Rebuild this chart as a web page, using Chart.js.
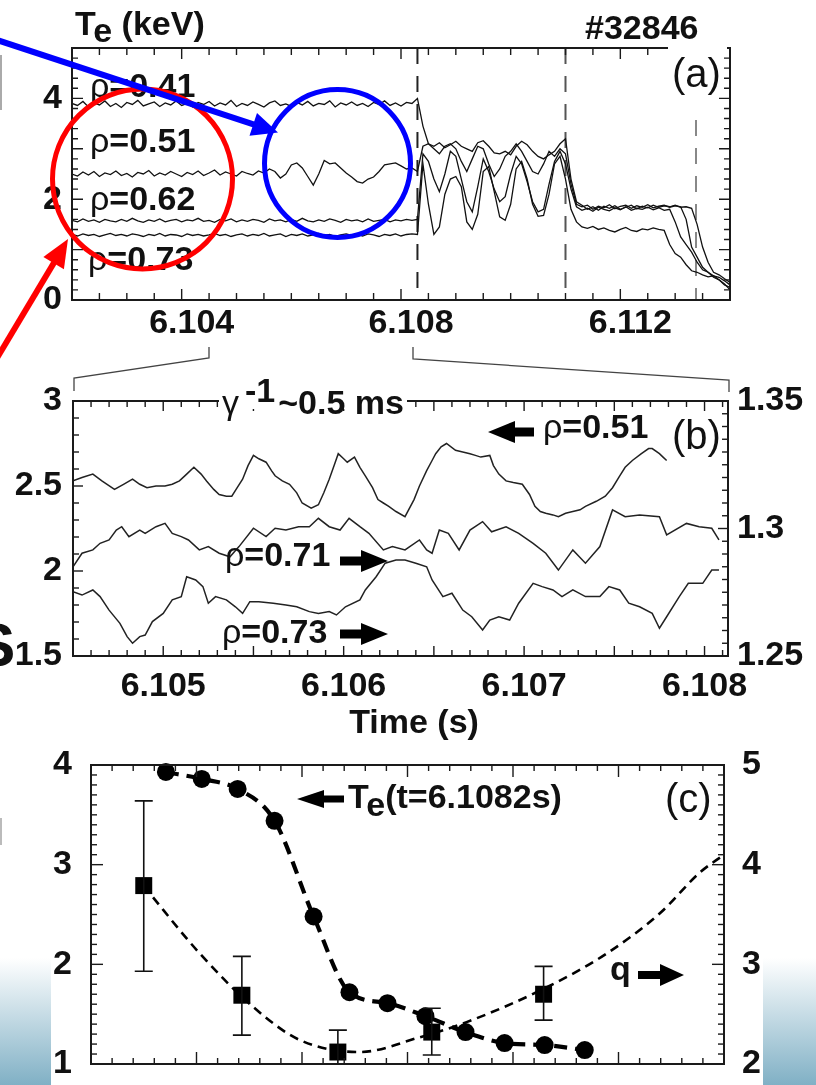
<!DOCTYPE html>
<html>
<head>
<meta charset="utf-8">
<title>Te crash #32846</title>
<script src="https://cdn.jsdelivr.net/npm/chart.js@4.4.1/dist/chart.umd.min.js"></script>
<style>
  html, body { margin: 0; padding: 0; background: #fff; }
  #page { position: relative; width: 816px; height: 1085px; overflow: hidden; background: #fff; }
  #page canvas { position: absolute; left: 0; }
  .fade { position: absolute; background: linear-gradient(to bottom, #ffffff 0%, #80b0c5 100%); }
  #overlay { position: absolute; left: 0; top: 0; pointer-events: none; }
</style>
</head>
<body>
<div id="page">
  <div class="fade" style="left:0;top:958px;width:51px;height:127px"></div>
  <div class="fade" style="left:763px;top:958px;width:53px;height:127px"></div>
  <canvas id="chartA" width="816" height="345" style="top:0"></canvas>
  <canvas id="chartB" width="816" height="345" style="top:380px"></canvas>
  <canvas id="chartC" width="816" height="345" style="top:740px"></canvas>

  <svg id="overlay" width="816" height="1085" viewBox="0 0 816 1085"
       font-family="'Liberation Sans', Arial, sans-serif" font-weight="bold" font-size="34" fill="#111">
    <!-- slide fragments on the left edge -->
    <rect x="0" y="55" width="2" height="55" fill="#aaa"/>
    <rect x="0" y="818" width="2" height="27" fill="#bbb"/>
    <text x="-26" y="666" font-size="62">S</text>

    <!-- gaps in the frames -->
    <rect x="668" y="43" width="59" height="12" fill="#fff"/>
    <rect x="219" y="394" width="188" height="15" fill="#fff"/>

    <!-- zoom connectors (a) -> (b) -->
    <polyline points="209,347 209,358 74,378 74,391" fill="none" stroke="#444" stroke-width="1.3"/>
    <polyline points="413,347 413,359 729,380 729,392" fill="none" stroke="#444" stroke-width="1.3"/>

    <!-- panel (a) text -->
    <text x="75" y="35">T<tspan dy="7">e</tspan><tspan dy="-7"> (keV)</tspan></text>
    <text x="585" y="39">#32846</text>
    <text x="672" y="87" font-size="40" font-weight="normal">(a)</text>
    <text x="90" y="97"><tspan font-weight="normal">ρ</tspan>=0.41</text>
    <text x="90" y="152"><tspan font-weight="normal">ρ</tspan>=0.51</text>
    <text x="90" y="210"><tspan font-weight="normal">ρ</tspan>=0.62</text>
    <text x="88" y="270"><tspan font-weight="normal">ρ</tspan>=0.73</text>

    <!-- panel (b) text -->
    <text x="222" y="414"><tspan font-weight="normal">γ</tspan><tspan dx="6" dy="-12">-1</tspan><tspan dx="3" dy="12">~0.5 ms</tspan></text>
    <text x="543" y="438"><tspan font-weight="normal">ρ</tspan>=0.51</text>
    <text x="672" y="449" font-size="40" font-weight="normal">(b)</text>
    <text x="225" y="566"><tspan font-weight="normal">ρ</tspan>=0.71</text>
    <text x="222" y="643"><tspan font-weight="normal">ρ</tspan>=0.73</text>
    <text x="414" y="733" text-anchor="middle">Time (s)</text>
    <polygon points="488,432 515,421 515,427.5 534,427.5 534,436.5 515,436.5 515,443" fill="#000"/>
    <polygon points="388,561 361,550 361,556.5 340,556.5 340,565.5 361,565.5 361,572" fill="#000"/>
    <polygon points="388,634 361,623 361,629.5 340,629.5 340,638.5 361,638.5 361,645" fill="#000"/>

    <!-- panel (c) text -->
    <text x="348" y="808">T<tspan dy="8">e</tspan><tspan dy="-8">(t=6.1082s)</tspan></text>
    <text x="665" y="812" font-size="40" font-weight="normal">(c)</text>
    <text x="610" y="980">q</text>
    <polygon points="297,799 324,790 324,795.5 344,795.5 344,802.5 324,802.5 324,808" fill="#000"/>
    <polygon points="684,975 660,964 660,971 638,971 638,979 660,979 660,986" fill="#000"/>

    <!-- highlight marks -->
    <circle cx="142.5" cy="179" r="90" fill="none" stroke="#ff0000" stroke-width="5"/>
    <line x1="-4" y1="359.7" x2="55" y2="261" stroke="#ff0000" stroke-width="6"/>
    <polygon points="68,239 63.9,269.2 43.4,256.9" fill="#ff0000"/>
    <ellipse cx="337.5" cy="163.5" rx="73" ry="74" fill="none" stroke="#0000ff" stroke-width="5"/>
    <line x1="-4" y1="39.7" x2="255" y2="124.9" stroke="#0000ff" stroke-width="6"/>
    <polygon points="278,132.5 249.5,135.8 257,113" fill="#0000ff"/>
  </svg>
</div>

<script>
// ---- panel (a): Te traces at four radii around the crash ----
const aTime = [
  6.1020, 6.1021, 6.1022, 6.1023, 6.1024, 6.1025, 6.1026, 6.1027, 6.1028, 6.1029,
  6.1030, 6.1031, 6.1032, 6.1033, 6.1034, 6.1035, 6.1036, 6.1037, 6.1038, 6.1039,
  6.1040, 6.1041, 6.1042, 6.1043, 6.1044, 6.1045, 6.1046, 6.1047, 6.1048, 6.1049,
  6.1050, 6.1051, 6.1052, 6.1053, 6.1054, 6.1055, 6.1056, 6.1057, 6.1058, 6.1059,
  6.1060, 6.1061, 6.1062, 6.1063, 6.1064, 6.1065, 6.1066, 6.1067, 6.1068, 6.1069,
  6.1070, 6.1071, 6.1072, 6.1073, 6.1074, 6.1075, 6.1076, 6.1077, 6.1078, 6.1079,
  6.1080, 6.1081, 6.1082,
  6.1083, 6.1084, 6.1085, 6.1086, 6.1087, 6.1088, 6.1089, 6.1090, 6.1091, 6.1092,
  6.1093, 6.1094, 6.1095, 6.1096, 6.1097, 6.1098, 6.1099, 6.1100, 6.1101, 6.1102,
  6.1103, 6.1104, 6.1105, 6.1106, 6.1107, 6.1108, 6.1109, 6.1110, 6.1111, 6.1112,
  6.1113, 6.1114, 6.1115, 6.1116, 6.1117, 6.1118, 6.1119, 6.1120, 6.1121, 6.1122,
  6.1123, 6.1124, 6.1125, 6.1126, 6.1127, 6.1128, 6.1129, 6.1130, 6.1131, 6.1132,
  6.1133, 6.1134, 6.1135, 6.1136, 6.1137, 6.1138, 6.1139, 6.1140
];
const aRho41 = [
  3.90, 3.86, 3.94, 3.83, 3.91, 3.87, 3.95, 3.84, 3.90, 3.82,
  3.92, 3.88, 3.96, 3.85, 3.89, 3.93, 3.84, 3.91, 3.87, 3.95,
  3.86, 3.90, 3.83, 3.92, 3.88, 3.94, 3.85, 3.91, 3.87, 3.96,
  3.84, 3.90, 3.86, 3.93, 3.88, 3.83, 3.91, 3.95, 3.86, 3.89,
  3.84, 3.92, 3.87, 3.94, 3.85, 3.90, 3.88, 3.95, 3.83, 3.91,
  3.87, 3.93, 3.86, 3.90, 3.84, 3.92, 3.88, 3.95, 3.86, 3.91,
  3.85, 3.92, 3.90,
  4.00, 3.45, 3.10, 3.05, 3.12, 3.02, 3.08, 3.15, 3.05, 3.00,
  2.95, 3.12, 3.16, 3.05, 2.92, 2.90, 2.95, 2.88, 3.05, 3.15,
  3.08, 2.95, 2.85, 2.80, 2.88, 2.95, 3.10, 3.20, 2.40, 1.95,
  1.88, 1.80, 1.85, 1.78, 1.86, 1.82, 1.87, 1.80, 1.84, 1.88,
  1.81, 1.86, 1.83, 1.88, 1.84, 1.87, 1.85, 1.88, 1.84, 1.85,
  1.82, 1.50, 1.05, 0.75, 0.55, 0.50, 0.42, 0.35
];
const aRho51 = [
  2.50, 2.46, 2.54, 2.48, 2.55, 2.45, 2.52, 2.49, 2.56, 2.47,
  2.51, 2.44, 2.53, 2.50, 2.57, 2.46, 2.52, 2.48, 2.55, 2.50,
  2.45, 2.53, 2.49, 2.56, 2.47, 2.52, 2.58, 2.48, 2.54, 2.50,
  2.46, 2.55, 2.51, 2.48, 2.56, 2.52, 2.60, 2.55, 2.42, 2.50,
  2.68, 2.72, 2.62, 2.45, 2.28, 2.50, 2.77, 2.70, 2.72, 2.62,
  2.52, 2.44, 2.35, 2.32, 2.40, 2.44, 2.55, 2.68, 2.70, 2.72,
  2.66, 2.60, 2.62,
  2.55, 3.05, 3.10, 3.00, 2.90, 3.05, 3.10, 3.00, 2.75, 2.55,
  2.80, 3.05, 3.00, 2.70, 2.45, 2.60, 2.85, 2.95, 3.10, 2.95,
  2.75, 2.55, 2.50, 2.70, 2.95, 2.85, 3.00, 2.90, 2.30, 1.90,
  1.85, 1.88, 1.80, 1.86, 1.83, 1.89, 1.81, 1.86, 1.88, 1.82,
  1.87, 1.84, 1.89, 1.83, 1.86, 1.88, 1.84, 1.87, 1.85, 1.60,
  1.05, 0.85, 0.65, 0.55, 0.45, 0.40, 0.30, 0.25
];
const aRho62 = [
  1.58, 1.55, 1.61, 1.56, 1.59, 1.54, 1.60, 1.57, 1.55, 1.60,
  1.56, 1.62, 1.57, 1.54, 1.59, 1.56, 1.61, 1.55, 1.58, 1.60,
  1.55, 1.59, 1.57, 1.62, 1.56, 1.58, 1.54, 1.60, 1.57, 1.61,
  1.55, 1.59, 1.56, 1.60, 1.58, 1.54, 1.61, 1.57, 1.59, 1.55,
  1.60, 1.56, 1.62, 1.57, 1.55, 1.59, 1.56, 1.61, 1.58, 1.54,
  1.60, 1.57, 1.59, 1.55, 1.61, 1.56, 1.58, 1.60, 1.55, 1.59,
  1.57, 1.60, 1.58,
  1.60, 2.90, 2.75, 2.40, 2.15, 2.50, 2.95, 2.85, 2.40, 1.95,
  1.75, 2.25, 2.80, 2.55, 2.20, 1.95, 2.05, 2.50, 2.85, 2.70,
  2.35, 1.95, 1.75, 1.80, 2.30, 2.75, 2.95, 2.70, 2.20, 1.85,
  1.78, 1.82, 1.76, 1.84, 1.80, 1.77, 1.83, 1.79, 1.85, 1.78,
  1.82, 1.80, 1.84, 1.79, 1.83, 1.78, 1.80, 1.55, 1.25, 1.10,
  0.95, 0.75, 0.60, 0.55, 0.48, 0.45, 0.38, 0.30
];
const aRho73 = [
  1.30, 1.27, 1.31, 1.28, 1.30, 1.26, 1.29, 1.32, 1.28, 1.30,
  1.27, 1.31, 1.29, 1.26, 1.30, 1.28, 1.32, 1.27, 1.30, 1.29,
  1.26, 1.31, 1.28, 1.30, 1.27, 1.29, 1.32, 1.28, 1.30, 1.26,
  1.29, 1.31, 1.27, 1.30, 1.28, 1.32, 1.27, 1.29, 1.31, 1.26,
  1.30, 1.28, 1.31, 1.27, 1.29, 1.32, 1.28, 1.30, 1.26, 1.29,
  1.31, 1.28, 1.30, 1.27, 1.31, 1.29, 1.26, 1.30, 1.28, 1.31,
  1.27, 1.30, 1.31,
  1.30, 2.70, 1.90, 1.30, 1.45, 2.10, 2.40, 2.45, 2.25, 1.55,
  1.40, 1.70, 2.55, 2.65, 2.15, 1.65, 1.58, 1.90, 2.60, 2.75,
  2.40, 1.90, 1.66, 1.68, 2.10, 2.70, 2.85, 2.40, 1.80, 1.55,
  1.45, 1.42, 1.46, 1.40, 1.43, 1.38, 1.35, 1.40, 1.44, 1.38,
  1.36, 1.41, 1.39, 1.43, 1.40, 1.38, 1.10, 0.92, 0.85, 0.70,
  0.58, 0.55, 0.50, 0.46, 0.48, 0.40, 0.32, 0.20
];
const aTimeLabels = [6.104, 6.108, 6.112];
const aTeLabels = [0, 2, 4];
const aMarkTimes = [6.1083, 6.1110, 6.11338];

// ---- panel (b): zoom 6.1045 - 6.1081 s ----
const bTime51 = [
  6.10450, 6.10455, 6.10461, 6.10466, 6.10473, 6.10478, 6.10483, 6.10487, 6.10491, 6.10496,
  6.10501, 6.10505, 6.10509, 6.10513, 6.10517, 6.10521, 6.10524, 6.10528, 6.10531, 6.10535,
  6.10538, 6.10541, 6.10544, 6.10547, 6.10550, 6.10553, 6.10557, 6.10560, 6.10562, 6.10566,
  6.10570, 6.10574, 6.10577, 6.10582, 6.10586, 6.10589, 6.10592, 6.10595, 6.10597, 6.10600,
  6.10602, 6.10606, 6.10609, 6.10612, 6.10616, 6.10619, 6.10622, 6.10625, 6.10629, 6.10634,
  6.10639, 6.10642, 6.10646, 6.10649, 6.10651, 6.10654, 6.10657, 6.10662, 6.10666, 6.10670,
  6.10673, 6.10676, 6.10681, 6.10683, 6.10686, 6.10690, 6.10694, 6.10699, 6.10703, 6.10706,
  6.10709, 6.10712, 6.10716, 6.10719, 6.10723, 6.10727, 6.10731, 6.10734, 6.10740, 6.10745,
  6.10749, 6.10753, 6.10756, 6.10760, 6.10765, 6.10769, 6.10771, 6.10775, 6.10777, 6.10779
];
const bTe51 = [
  2.53, 2.55, 2.57, 2.53, 2.48, 2.51, 2.54, 2.51, 2.49, 2.50,
  2.50, 2.51, 2.53, 2.57, 2.61, 2.57, 2.53, 2.48, 2.45, 2.44,
  2.44, 2.49, 2.54, 2.62, 2.68, 2.66, 2.64, 2.59, 2.56, 2.53,
  2.51, 2.46, 2.40, 2.37, 2.39, 2.46, 2.54, 2.63, 2.69, 2.66,
  2.64, 2.67, 2.61, 2.56, 2.49, 2.42, 2.40, 2.38, 2.35, 2.32,
  2.42, 2.50, 2.59, 2.65, 2.69, 2.73, 2.75, 2.71, 2.70, 2.69,
  2.68, 2.67, 2.68, 2.62, 2.57, 2.53, 2.52, 2.51, 2.45, 2.38,
  2.35, 2.34, 2.33, 2.32, 2.34, 2.35, 2.36, 2.38, 2.41, 2.44,
  2.49, 2.56, 2.61, 2.65, 2.69, 2.72, 2.72, 2.69, 2.67, 2.65
];
const bTime71 = [
  6.10450, 6.10455, 6.10461, 6.10465, 6.10470, 6.10474, 6.10477, 6.10481, 6.10487, 6.10490,
  6.10496, 6.10501, 6.10505, 6.10510, 6.10514, 6.10520, 6.10525, 6.10531, 6.10537, 6.10542,
  6.10550, 6.10557, 6.10562, 6.10568, 6.10575, 6.10581, 6.10586, 6.10592, 6.10598, 6.10603,
  6.10609, 6.10614, 6.10622, 6.10627, 6.10634, 6.10642, 6.10646, 6.10649, 6.10653, 6.10658,
  6.10664, 6.10670, 6.10677, 6.10682, 6.10690, 6.10697, 6.10705, 6.10712, 6.10719, 6.10727,
  6.10734, 6.10742, 6.10749, 6.10756, 6.10764, 6.10775, 6.10779, 6.10790, 6.10797, 6.10804,
  6.10808
];
const bTe71 = [
  1.2850, 1.2903, 1.2916, 1.2942, 1.2955, 1.2994, 1.3007, 1.2968, 1.2994, 1.2981,
  1.3007, 1.3020, 1.2981, 1.2968, 1.2955, 1.2916, 1.2929, 1.2903, 1.2889, 1.2929,
  1.3001, 1.2968, 1.3001, 1.2994, 1.3007, 1.3007, 1.3040, 1.3007, 1.2994, 1.3040,
  1.3007, 1.2981, 1.2916, 1.2929, 1.2916, 1.2955, 1.2916, 1.2903, 1.2994, 1.2981,
  1.2916, 1.2994, 1.3027, 1.2987, 1.3007, 1.2981, 1.2942, 1.2903, 1.2837, 1.2916,
  1.2864, 1.2929, 1.3073, 1.3046, 1.3053, 1.3046, 1.2975, 1.3020, 1.3007, 1.3001,
  1.2955
];
const bTime73 = [
  6.10450, 6.10455, 6.10461, 6.10465, 6.10470, 6.10476, 6.10480, 6.10483, 6.10487, 6.10490,
  6.10494, 6.10500, 6.10505, 6.10510, 6.10513, 6.10518, 6.10522, 6.10525, 6.10529, 6.10535,
  6.10540, 6.10544, 6.10548, 6.10553, 6.10561, 6.10568, 6.10574, 6.10581, 6.10586, 6.10592,
  6.10596, 6.10601, 6.10609, 6.10612, 6.10618, 6.10623, 6.10629, 6.10634, 6.10640, 6.10646,
  6.10649, 6.10655, 6.10660, 6.10666, 6.10671, 6.10677, 6.10681, 6.10686, 6.10692, 6.10697,
  6.10705, 6.10710, 6.10716, 6.10721, 6.10727, 6.10734, 6.10742, 6.10747, 6.10753, 6.10758,
  6.10764, 6.10771, 6.10775, 6.10779, 6.10786, 6.10791, 6.10799, 6.10804, 6.10808
];
const bTe73 = [
  1.2752, 1.2739, 1.2759, 1.2733, 1.2680, 1.2628, 1.2576, 1.2550, 1.2576, 1.2582,
  1.2635, 1.2667, 1.2720, 1.2733, 1.2811, 1.2798, 1.2772, 1.2707, 1.2733, 1.2720,
  1.2693, 1.2667, 1.2713, 1.2713, 1.2707, 1.2700, 1.2693, 1.2674, 1.2667, 1.2674,
  1.2661, 1.2693, 1.2720, 1.2759, 1.2811, 1.2864, 1.2876, 1.2876, 1.2864, 1.2850,
  1.2798, 1.2733, 1.2746, 1.2680, 1.2654, 1.2602, 1.2641, 1.2654, 1.2641, 1.2707,
  1.2785, 1.2772, 1.2759, 1.2733, 1.2759, 1.2733, 1.2733, 1.2772, 1.2759, 1.2707,
  1.2693, 1.2667, 1.2609, 1.2654, 1.2733, 1.2785, 1.2785, 1.2837, 1.2837
];
const bTimeLabels = [6.105, 6.106, 6.107, 6.108];
const bLeftLabels = [1.5, 2, 2.5, 3];
const bRightLabels = [1.25, 1.3, 1.35];

// ---- panel (c): Te profile at t=6.1082 s and q profile ----
const teRho = [0.271, 0.305, 0.339, 0.374, 0.411, 0.445, 0.481, 0.517, 0.555, 0.592, 0.630, 0.668];
const teVal = [3.93, 3.86, 3.76, 3.44, 2.48, 1.72, 1.61, 1.48, 1.32, 1.21, 1.19, 1.14];
const qRho = [0.250, 0.343, 0.434, 0.523, 0.629];
const qVal = [3.79, 2.69, 2.12, 2.32, 2.70];
const qLo = [2.93, 2.29, 1.95, 2.09, 2.44];
const qHi = [4.64, 3.08, 2.34, 2.56, 2.98];
const qFitRho = [0.250, 0.259, 0.303, 0.354, 0.398, 0.455, 0.509, 0.556, 0.632, 0.689, 0.739, 0.777, 0.800];
const qFitVal = [3.79, 3.67, 3.11, 2.57, 2.24, 2.12, 2.26, 2.42, 2.77, 3.11, 3.51, 3.92, 4.10];
const cLeftLabels = [1, 2, 3, 4];
const cRightLabels = [2, 3, 4, 5];

Chart.defaults.font.family = "'Liberation Sans', Arial, sans-serif";
Chart.defaults.color = '#111';
Chart.defaults.animation = false;
Chart.defaults.plugins.legend.display = false;
Chart.defaults.plugins.tooltip.enabled = false;

const tickFont = { size: 34, weight: 'bold', lineHeight: 1 };

function pts(xs, ys) {
  return xs.map((x, i) => ({ x: x, y: ys[i] }));
}

function trace(xs, ys, extra) {
  return Object.assign({
    data: pts(xs, ys), showLine: true, pointRadius: 0,
    borderColor: '#111', borderWidth: 1.3, tension: 0
  }, extra || {});
}

// linear axis showing only the given labels; size = fixed box width/height
function axis(min, max, position, labels, size, pad, labelOffset) {
  return {
    type: 'linear', position: position, min: min, max: max,
    grid: { display: false, drawTicks: false },
    border: { display: false },
    ticks: {
      display: labels.length > 0, padding: pad, color: '#111', font: tickFont,
      autoSkip: false, maxRotation: 0, minRotation: 0, labelOffset: labelOffset || 0,
      callback: v => String(+Number(v).toFixed(4))
    },
    afterBuildTicks: s => { s.ticks = labels.map(v => ({ value: v })); },
    afterFit: s => {
      // fixed box size, and no extra room for labels hanging past the ends
      if (s.isHorizontal()) { s.height = size; s.paddingLeft = 0; s.paddingRight = 0; }
      else { s.width = size; s.paddingTop = 0; s.paddingBottom = 0; }
    }
  };
}

// box + inward tick marks, plus optional dashed time markers
const framePlugin = {
  id: 'frame',
  beforeDatasetsDraw(chart, args, o) {
    if (!o.dashes) return;
    const { ctx, chartArea: a, scales } = chart;
    ctx.save();
    o.dashes.forEach(d => {
      const x = scales.x.getPixelForValue(d.t);
      ctx.strokeStyle = d.color;
      ctx.lineWidth = 2;
      ctx.setLineDash([16, 12]);
      ctx.beginPath();
      ctx.moveTo(x, d.top || a.top);
      ctx.lineTo(x, a.bottom);
      ctx.stroke();
    });
    ctx.restore();
  },
  afterDatasetsDraw(chart, args, o) {
    const { ctx, chartArea: a, scales } = chart;
    ctx.save();
    ctx.strokeStyle = '#1a1a1a';
    ctx.lineWidth = 1.4;
    o.marks.forEach(m => {
      const s = scales[m.scale];
      const n = Math.round((m.to - m.from) / m.step);
      for (let i = 0; i <= n; i++) {
        const v = m.from + i * m.step;
        const r = v / m.major;
        const len = Math.abs(r - Math.round(r)) < 1e-6 ? m.long : m.short;
        const p = s.getPixelForValue(v);
        ctx.beginPath();
        m.sides.forEach(side => {
          if (side === 'bottom') { ctx.moveTo(p, a.bottom); ctx.lineTo(p, a.bottom - len); }
          if (side === 'top') { ctx.moveTo(p, a.top); ctx.lineTo(p, a.top + len); }
          if (side === 'left') { ctx.moveTo(a.left, p); ctx.lineTo(a.left + len, p); }
          if (side === 'right') { ctx.moveTo(a.right, p); ctx.lineTo(a.right - len, p); }
        });
        ctx.stroke();
      }
    });
    ctx.lineWidth = 2;
    ctx.strokeRect(a.left, a.top, a.right - a.left, a.bottom - a.top);
    ctx.restore();
  }
};

// error bars on the q points
const errPlugin = {
  id: 'errbars',
  afterDatasetsDraw(chart) {
    const { ctx, chartArea: a, scales } = chart;
    ctx.save();
    ctx.beginPath();
    ctx.rect(a.left, a.top, a.right - a.left, a.bottom - a.top);
    ctx.clip();
    ctx.strokeStyle = '#111';
    ctx.lineWidth = 1.6;
    qRho.forEach((r, i) => {
      const px = scales.x.getPixelForValue(r);
      const lo = scales.y2.getPixelForValue(qLo[i]);
      const hi = scales.y2.getPixelForValue(qHi[i]);
      ctx.beginPath();
      ctx.moveTo(px, lo); ctx.lineTo(px, hi);
      ctx.moveTo(px - 9, lo); ctx.lineTo(px + 9, lo);
      ctx.moveTo(px - 9, hi); ctx.lineTo(px + 9, hi);
      ctx.stroke();
    });
    ctx.restore();
  }
};

// (a)
new Chart(document.getElementById('chartA'), {
  type: 'scatter',
  data: {
    datasets: [
      trace(aTime, aRho41),
      trace(aTime, aRho51),
      trace(aTime, aRho62),
      trace(aTime, aRho73)
    ]
  },
  options: {
    responsive: false,
    layout: { padding: { top: 48, right: 86, left: 0, bottom: 0 } },
    scales: {
      x: axis(6.102, 6.114, 'bottom', aTimeLabels, 45, 7, 10),
      y: axis(0, 5, 'left', aTeLabels, 72, 10)
    },
    plugins: {
      frame: {
        dashes: [
          { t: aMarkTimes[0], color: '#222' },
          { t: aMarkTimes[1], color: '#555' },
          { t: aMarkTimes[2], color: '#888', top: 120 }
        ],
        marks: [
          { scale: 'x', from: 6.102, to: 6.114, step: 0.0005, major: 0.004, long: 11, short: 7, sides: ['bottom', 'top'] },
          { scale: 'y', from: 0, to: 5, step: 0.2, major: 1, long: 11, short: 6, sides: ['left', 'right'] }
        ]
      }
    }
  },
  plugins: [framePlugin]
});

// (b)
new Chart(document.getElementById('chartB'), {
  type: 'scatter',
  data: {
    datasets: [
      trace(bTime51, bTe51, { borderColor: '#222', borderWidth: 1.5 }),
      trace(bTime71, bTe71, { borderColor: '#222', borderWidth: 1.5, yAxisID: 'y2' }),
      trace(bTime73, bTe73, { borderColor: '#222', borderWidth: 1.5, yAxisID: 'y2' })
    ]
  },
  options: {
    responsive: false,
    layout: { padding: { top: 21, right: 0, left: 0, bottom: 0 } },
    scales: {
      x: axis(6.1045, 6.10813, 'bottom', bTimeLabels, 69, 14),
      y: axis(1.5, 3, 'left', bLeftLabels, 73, 11),
      y2: axis(1.25, 1.35, 'right', bRightLabels, 88, 9)
    },
    plugins: {
      frame: {
        marks: [
          { scale: 'x', from: 6.1045, to: 6.1081, step: 0.0001, major: 0.0005, long: 10, short: 6, sides: ['bottom', 'top'] },
          { scale: 'y', from: 1.5, to: 3, step: 0.1, major: 0.5, long: 10, short: 6, sides: ['left'] },
          { scale: 'y2', from: 1.25, to: 1.35, step: 0.005, major: 0.05, long: 10, short: 6, sides: ['right'] }
        ]
      }
    }
  },
  plugins: [framePlugin]
});

// (c)
new Chart(document.getElementById('chartC'), {
  type: 'scatter',
  data: {
    datasets: [
      { data: pts(teRho, teVal), pointRadius: 9, pointBackgroundColor: '#000', pointBorderColor: '#000',
        pointBorderWidth: 0, showLine: false, order: 0, clip: 12 },
      { data: pts(qRho, qVal), yAxisID: 'y2', pointStyle: 'rect', pointRadius: 12,
        pointBackgroundColor: '#000', pointBorderColor: '#000', pointBorderWidth: 0, showLine: false, order: 1, clip: 12 },
      trace(teRho, teVal, { borderColor: '#000', borderWidth: 4.2, borderDash: [13, 8],
        cubicInterpolationMode: 'monotone', tension: 0.4, order: 2 }),
      trace(qFitRho, qFitVal, { yAxisID: 'y2', borderColor: '#000', borderWidth: 2.6, borderDash: [9, 6],
        cubicInterpolationMode: 'monotone', tension: 0.4, order: 3 })
    ]
  },
  options: {
    responsive: false,
    layout: { padding: { top: 25, right: 0, left: 0, bottom: 0 } },
    scales: {
      x: axis(0.2, 0.8, 'bottom', [], 21, 0),
      y: axis(1, 4, 'left', cLeftLabels, 91, 19),
      y2: axis(2, 5, 'right', cRightLabels, 92, 18)
    },
    plugins: {
      frame: {
        marks: [
          { scale: 'x', from: 0.2, to: 0.8, step: 0.02, major: 0.1, long: 12, short: 6, sides: ['bottom', 'top'] },
          { scale: 'y', from: 1, to: 4, step: 0.1, major: 1, long: 12, short: 6, sides: ['left'] },
          { scale: 'y2', from: 2, to: 5, step: 0.1, major: 1, long: 12, short: 6, sides: ['right'] }
        ]
      }
    }
  },
  plugins: [errPlugin, framePlugin]
});
</script>
</body>
</html>
